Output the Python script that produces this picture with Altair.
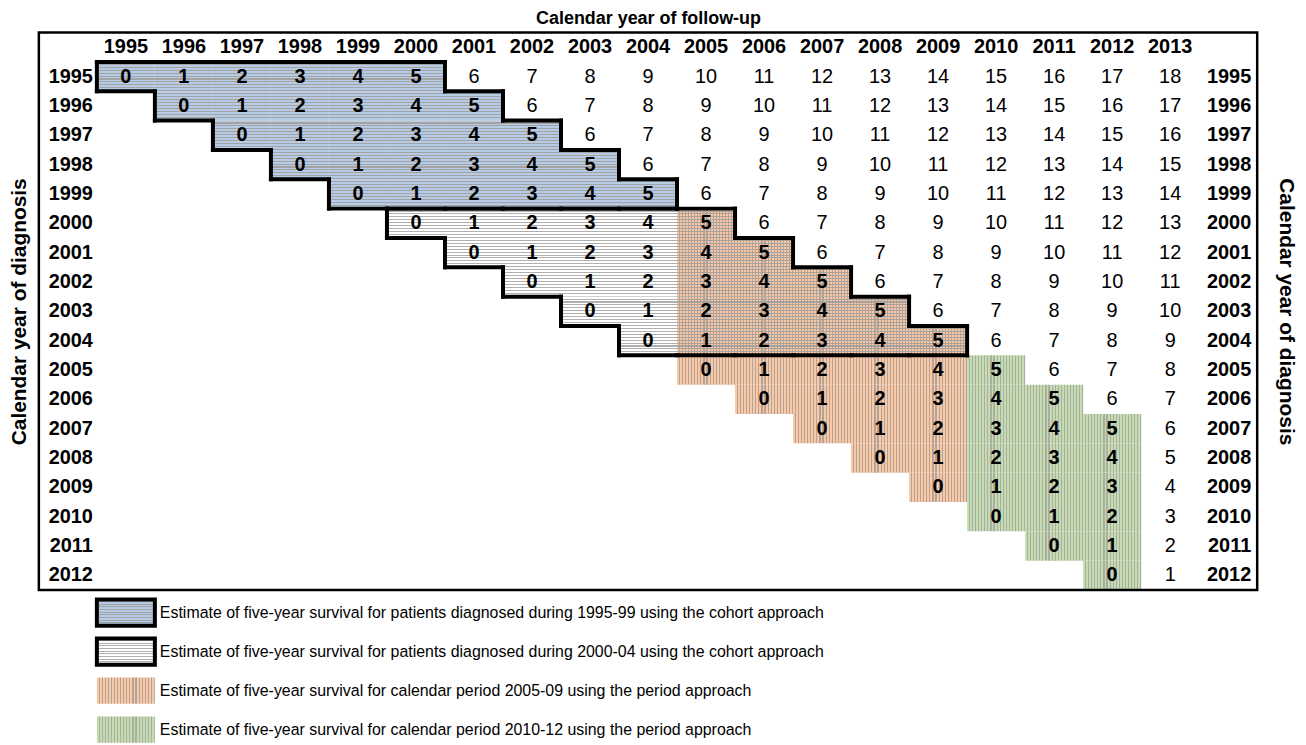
import altair as alt
import pandas as pd

# ---------------- data ----------------
follow_years = [1995, 1996, 1997, 1998, 1999, 2000, 2001, 2002, 2003, 2004,
                2005, 2006, 2007, 2008, 2009, 2010, 2011, 2012, 2013]
diag_years = [1995, 1996, 1997, 1998, 1999, 2000, 2001, 2002, 2003,
              2004, 2005, 2006, 2007, 2008, 2009, 2010, 2011, 2012]
cohort_a = [1995, 1996, 1997, 1998, 1999]      # diagnosis years, cohort 1995-99
cohort_b = [2000, 2001, 2002, 2003, 2004]      # diagnosis years, cohort 2000-04
period_a = [2005, 2006, 2007, 2008, 2009]      # calendar years, period 2005-09
period_b = [2010, 2011, 2012]                  # calendar years, period 2010-12
max_followup = 5
legend_labels = [
    "Estimate of five-year survival for patients diagnosed during 1995-99 using the cohort approach",
    "Estimate of five-year survival for patients diagnosed during 2000-04 using the cohort approach",
    "Estimate of five-year survival for calendar period 2005-09 using the period approach",
    "Estimate of five-year survival for calendar period 2010-12 using the period approach",
]
legend_patterns = ["blue", "white", "orange", "green"]
legend_framed = [True, True, False, False]

top_title = "Calendar year of follow-up"
side_title = "Calendar year of diagnosis"

# ---------------- layout ----------------
FONT = "Liberation Sans"
NX = len(follow_years) + 2            # label column + years + right label column
NROWS = len(diag_years) + 1           # header + diagnosis years
W = 1224
BOX_H = 560
RH = BOX_H / NROWS
H = 712
NY = H / RH
LEG_FIRST = NROWS + 0.77
LEG_STEP = 1.33
LEG_HALF = 0.45
NUM_SIZE = 20

# ---------------- stripe gradients ----------------
LINE = "#a3a3a3"


def stripes(bg, line, n, horizontal, frac=0.36):
    stops = []
    for k in range(n):
        a = k / n
        b = (k + 1 - frac) / n
        c = (k + 1) / n
        stops += [{"offset": a, "color": bg}, {"offset": b, "color": bg},
                  {"offset": b, "color": line}, {"offset": c, "color": line}]
    g = {"gradient": "linear", "stops": stops, "x1": 0, "y1": 0}
    if horizontal:
        g.update({"x2": 0, "y2": 1})
    else:
        g.update({"x2": 1, "y2": 0})
    return g


fills = {
    "blue": stripes("#b6cce6", LINE, 10, True),
    "white": stripes("#ffffff", "#b0b0b0", 10, True),
    "orange": stripes("#fac8a4", "#b3a49a", 19, False),
    "green": stripes("#c5dcb0", "#a9afa3", 19, False),
    "hover": stripes("rgba(0,0,0,0)", "#a8a29e", 10, True),
}

# ---------------- build tables ----------------
rects, texts, regA, regB = [], [], set(), set()
for i, d in enumerate(diag_years, start=1):
    for j, f in enumerate(follow_years, start=1):
        if f < d:
            continue
        t = f - d
        inA = d in cohort_a and t <= max_followup
        inB = d in cohort_b and t <= max_followup
        inP = f in period_a and t <= max_followup
        inQ = f in period_b and t <= max_followup
        if inA:
            regA.add((i, j))
        if inB:
            regB.add((i, j))
        pats = []
        if inA:
            pats = ["blue"]
        elif inP:
            pats = ["orange"] + (["hover"] if inB else [])
        elif inQ:
            pats = ["green"]
        elif inB:
            pats = ["white"]
        for p in pats:
            rects.append({"x0": j, "x1": j + 1, "y0": i, "y1": i + 1, "pat": p})
        texts.append({"xc": j + 0.5, "yc": i + 0.5, "label": str(t),
                      "bold": bool(inA or inB or inP or inQ)})

for k, p in enumerate(legend_patterns):
    yc = LEG_FIRST + k * LEG_STEP
    rects.append({"x0": 1, "x1": 2, "y0": yc - LEG_HALF, "y1": yc + LEG_HALF, "pat": p})

rect_df = pd.DataFrame(rects)
text_df = pd.DataFrame(texts)


def boundary(region):
    segs = []
    for (i, j) in region:
        if (i - 1, j) not in region:
            segs.append({"x0": j, "x1": j + 1, "y0": i, "y1": i})
        if (i + 1, j) not in region:
            segs.append({"x0": j, "x1": j + 1, "y0": i + 1, "y1": i + 1})
        if (i, j - 1) not in region:
            segs.append({"x0": j, "x1": j, "y0": i, "y1": i + 1})
        if (i, j + 1) not in region:
            segs.append({"x0": j + 1, "x1": j + 1, "y0": i, "y1": i + 1})
    return segs


border_df = pd.DataFrame(boundary(regA) + boundary(regB))

header_df = pd.DataFrame({"xc": [j + 0.5 for j in range(1, len(follow_years) + 1)],
                          "yc": [0.5] * len(follow_years),
                          "label": [str(f) for f in follow_years]})
rowlab_df = pd.DataFrame({"yc": [i + 0.5 for i in range(1, len(diag_years) + 1)],
                          "label": [str(d) for d in diag_years],
                          "xl": [1] * len(diag_years),
                          "xr": [NX] * len(diag_years)})
leg_df = pd.DataFrame({"label": legend_labels,
                       "yc": [LEG_FIRST + k * LEG_STEP for k in range(len(legend_labels))],
                       "x0": [1] * 4, "x1": [2] * 4,
                       "y0": [LEG_FIRST + k * LEG_STEP - LEG_HALF for k in range(4)],
                       "y1": [LEG_FIRST + k * LEG_STEP + LEG_HALF for k in range(4)],
                       "framed": legend_framed})
box_df = pd.DataFrame({"x0": [0], "x1": [NX], "y0": [0], "y1": [NROWS]})

# ---------------- scales / axes ----------------
xs = alt.Scale(domain=[0, NX], nice=False, zero=False)
ys = alt.Scale(domain=[0, NY], reverse=True, nice=False, zero=False)

title_common = dict(labels=False, ticks=False, domain=False, grid=False,
                    titleFont=FONT, titleFontWeight="bold",
                    titleColor="black", titleBaseline="middle", titleAlign="center")
top_axis = alt.Axis(orient="top", title=top_title, titleX=W / 2, titleY=-14,
                    titleAngle=0, titleFontSize=18, **title_common)
left_axis = alt.Axis(orient="left", title=side_title, titleX=-19, titleY=BOX_H / 2,
                     titleAngle=270, titleFontSize=21, **title_common)
right_axis = alt.Axis(orient="right", title=side_title, titleX=28, titleY=BOX_H / 2,
                      titleAngle=90, titleFontSize=21, **title_common)


def rect_enc(ch):
    return ch.encode(x=alt.X("x0:Q", scale=xs, axis=None), x2="x1:Q",
                     y=alt.Y("y0:Q", scale=ys, axis=None), y2="y1:Q")


layers = []
for p in ["blue", "white", "orange", "green", "hover"]:
    layers.append(rect_enc(alt.Chart(rect_df).transform_filter(alt.datum.pat == p)
                           .mark_rect(fill=fills[p], strokeWidth=0)))

# thick borders around the cohorts
layers.append(alt.Chart(border_df).mark_rule(color="black", strokeWidth=4, strokeCap="square")
              .encode(x=alt.X("x0:Q", scale=xs, axis=None), x2="x1:Q",
                      y=alt.Y("y0:Q", scale=ys, axis=None), y2="y1:Q"))

# legend frames
layers.append(rect_enc(alt.Chart(leg_df).transform_filter(alt.datum.framed)
                       .mark_rect(fillOpacity=0, stroke="black", strokeWidth=4)))

# outer box (carries the top and left axis titles)
layers.append(alt.Chart(box_df).mark_rect(fillOpacity=0, stroke="black", strokeWidth=2.5)
              .encode(x=alt.X("x0:Q", scale=xs, axis=top_axis), x2="x1:Q",
                      y=alt.Y("y0:Q", scale=ys, axis=left_axis), y2="y1:Q"))

# cell numbers
for b in [True, False]:
    layers.append(alt.Chart(text_df).transform_filter(alt.datum.bold == b)
                  .mark_text(font=FONT, fontSize=NUM_SIZE, fontWeight="bold" if b else "normal",
                             color="black", baseline="middle", align="center")
                  .encode(x=alt.X("xc:Q", scale=xs, axis=None),
                          y=alt.Y("yc:Q", scale=ys, axis=None), text="label:N"))

# header years
layers.append(alt.Chart(header_df)
              .mark_text(font=FONT, fontSize=NUM_SIZE, fontWeight="bold", color="black",
                         baseline="middle", align="center")
              .encode(x=alt.X("xc:Q", scale=xs, axis=None),
                      y=alt.Y("yc:Q", scale=ys, axis=None), text="label:N"))

# left row labels
layers.append(alt.Chart(rowlab_df)
              .mark_text(font=FONT, fontSize=NUM_SIZE, fontWeight="bold", color="black",
                         baseline="middle", align="right", dx=-4)
              .encode(x=alt.X("xl:Q", scale=xs, axis=None),
                      y=alt.Y("yc:Q", scale=ys, axis=None), text="label:N"))

# right row labels (carries the right axis title)
layers.append(alt.Chart(rowlab_df)
              .mark_text(font=FONT, fontSize=NUM_SIZE, fontWeight="bold", color="black",
                         baseline="middle", align="right", dx=-6)
              .encode(x=alt.X("xr:Q", scale=xs, axis=None),
                      y=alt.Y("yc:Q", scale=ys, axis=right_axis), text="label:N"))

# legend texts
layers.append(alt.Chart(leg_df)
              .mark_text(font=FONT, fontSize=16, color="black", baseline="middle",
                         align="left", dx=5)
              .encode(x=alt.X("x1:Q", scale=xs, axis=None),
                      y=alt.Y("yc:Q", scale=ys, axis=None), text="label:N"))

chart = (alt.layer(*layers)
         .resolve_axis(x="independent", y="independent")
         .properties(width=W, height=H, autosize=alt.AutoSizeParams(type="none"),
                     padding={"left": 31, "top": 23, "right": 41, "bottom": 2},
                     background="white")
         .configure_view(strokeWidth=0))

chart.save("out.html", embed_options={"renderer": "svg", "actions": False})
